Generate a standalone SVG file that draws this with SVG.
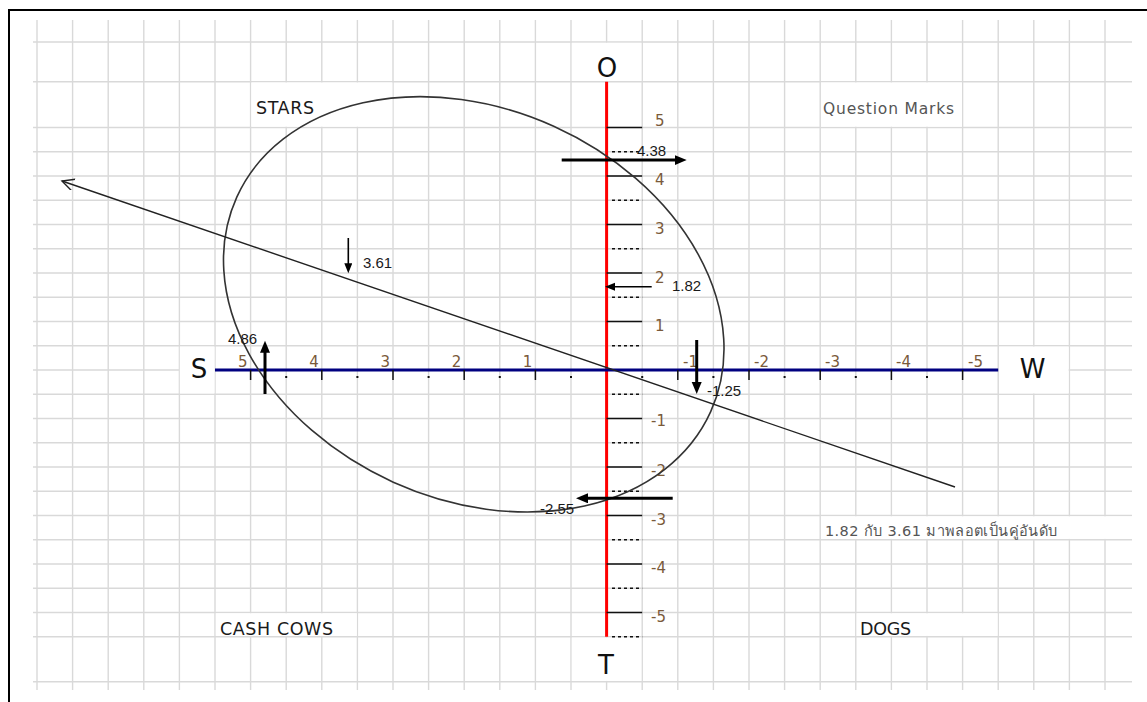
<svg xmlns="http://www.w3.org/2000/svg" width="1147" height="702" viewBox="0 0 1147 702">
<style>
.grid{stroke:#d9d9d9;stroke-width:1.4;fill:none}
.cell{fill:#fff}
.big{font-family:"DejaVu Sans","Liberation Sans",sans-serif;font-size:26px;fill:#111}
.quad{font-family:"DejaVu Sans","Liberation Sans",sans-serif;font-size:17.5px;fill:#1a1a1a}
.qm{font-family:"DejaVu Sans","Liberation Sans",sans-serif;font-size:15.5px;fill:#555}
.ax{font-family:"DejaVu Sans","Liberation Sans",sans-serif;font-size:15px;fill:#7a5a3a}
.val{font-family:"Liberation Sans","DejaVu Sans",sans-serif;font-size:15px;fill:#1a1a1a}
.thai{font-family:"DejaVu Sans","Noto Sans",sans-serif;font-size:14.5px;fill:#555}
.tick{stroke:#111;stroke-width:1.5}
.dot{stroke:#111;stroke-width:1.5;stroke-dasharray:3 3}
.thick{stroke:#000;stroke-width:3}
.thin{stroke:#000;stroke-width:1.6}
</style>
<defs>
<marker id="head" markerUnits="userSpaceOnUse" markerWidth="13" markerHeight="11" refX="4" refY="5" orient="auto">
<path d="M0,0 L12,5 L0,10 z" fill="#000"/>
</marker>
<marker id="headS" markerUnits="userSpaceOnUse" markerWidth="11" markerHeight="9" refX="3" refY="4" orient="auto">
<path d="M0,0 L10,4 L0,8 z" fill="#000"/>
</marker>
<marker id="open" markerUnits="userSpaceOnUse" markerWidth="14" markerHeight="14" refX="12" refY="6" orient="auto">
<path d="M0,0 L12,6 L0,12" fill="none" stroke="#222" stroke-width="1.4"/>
</marker>
</defs>
<rect width="1147" height="702" fill="#fff"/>
<g id="frame">
<path d="M9 702V10H1147" fill="none" stroke="#000" stroke-width="2"/>
</g>
<g id="grid">
<path class="grid" d="M37 20V690M72.6 20V690M108.2 20V690M143.8 20V690M179.4 20V690M215 20V690M250.6 20V690M286.2 20V690M321.8 20V690M357.4 20V690M393 20V690M428.6 20V690M464.2 20V690M499.8 20V690M535.4 20V690M571 20V690M606.6 20V690M642.2 20V690M677.8 20V690M713.4 20V690M749 20V690M784.6 20V690M820.2 20V690M855.8 20V690M891.4 20V690M927 20V690M962.6 20V690M998.2 20V690M1033.8 20V690M1069.4 20V690M1105 20V690"/>
<path class="grid" d="M33 42H1132M33 81.7H1132M33 127.5H1132M33 151.75H1132M33 176H1132M33 200.25H1132M33 224.5H1132M33 248.75H1132M33 273H1132M33 297.25H1132M33 321.5H1132M33 345.75H1132M33 370H1132M33 394.25H1132M33 418.5H1132M33 442.75H1132M33 467H1132M33 491.25H1132M33 515.5H1132M33 539.75H1132M33 564H1132M33 588.25H1132M33 612.5H1132M33 636.75H1132M33 681.7H1132"/>
<rect class="cell" x="571.8" y="42.8" width="69.6" height="38.1"/>
<rect class="cell" x="251.4" y="82.5" width="141" height="44.2"/>
<rect class="cell" x="821" y="82.5" width="141" height="44.2"/>
<rect class="cell" x="215.8" y="613.3" width="141" height="22.6"/>
<rect class="cell" x="856.6" y="613.3" width="141" height="22.6"/>
<rect class="cell" x="821" y="516.3" width="311" height="22.6"/>
<rect class="cell" x="571.8" y="637.6" width="69.6" height="43.3"/>
<rect class="cell" x="999" y="346.6" width="69.6" height="46.8"/>
<rect class="cell" x="179.8" y="346.6" width="34.8" height="46.8"/>
</g>
<g id="axis-ot">
<line x1="606.6" y1="81.7" x2="606.6" y2="636.75" stroke="#ff0000" stroke-width="3"/>
<path class="tick" d="M606.6 127.5H642.2M606.6 176H642.2M606.6 224.5H642.2M606.6 273H642.2M606.6 321.5H642.2M606.6 418.5H642.2M606.6 467H642.2M606.6 515.5H642.2M606.6 564H642.2M606.6 612.5H642.2"/>
<path class="dot" d="M612 151.75H642.2M612 200.25H642.2M612 248.75H642.2M612 297.25H642.2M612 345.75H642.2M612 394.25H642.2M612 442.75H642.2M612 491.25H642.2M612 539.75H642.2M612 588.25H642.2M612 636.75H642.2"/>
<text class="ax" x="655" y="126">5</text>
<text class="ax" x="655" y="185">4</text>
<text class="ax" x="655" y="234">3</text>
<text class="ax" x="655" y="283">2</text>
<text class="ax" x="655" y="331">1</text>
<text class="ax" x="651" y="426">-1</text>
<text class="ax" x="651" y="476">-2</text>
<text class="ax" x="651" y="525">-3</text>
<text class="ax" x="651" y="573">-4</text>
<text class="ax" x="651" y="622">-5</text>
</g>
<g id="axis-sw">
<line x1="215" y1="370" x2="998.2" y2="370" stroke="#000080" stroke-width="3"/>
<path class="tick" d="M250.6 370V380M321.8 370V380M393 370V380M464.2 370V380M535.4 370V380M677.8 370V380M749 370V380M820.2 370V380M891.4 370V380M962.6 370V380"/>
<path stroke="#111" stroke-width="2" d="M286.2 376v2M357.4 376v2M428.6 376v2M499.8 376v2M571 376v2M642.2 376v2M713.4 376v2M784.6 376v2M855.8 376v2M927 376v2"/>
<text class="ax" x="247.6" y="367" text-anchor="end">5</text>
<text class="ax" x="318.8" y="367" text-anchor="end">4</text>
<text class="ax" x="390" y="367" text-anchor="end">3</text>
<text class="ax" x="461.2" y="367" text-anchor="end">2</text>
<text class="ax" x="532.4" y="367" text-anchor="end">1</text>
<text class="ax" x="683" y="367">-1</text>
<text class="ax" x="754" y="367">-2</text>
<text class="ax" x="825" y="367">-3</text>
<text class="ax" x="896" y="367">-4</text>
<text class="ax" x="968" y="367">-5</text>
</g>
<g id="labels">
<text class="big" x="607" y="76.5" text-anchor="middle">O</text>
<text class="big" x="606" y="674" text-anchor="middle">T</text>
<text class="big" x="199" y="378" text-anchor="middle">S</text>
<text class="big" x="1032.5" y="378" text-anchor="middle">W</text>
<text class="quad" x="256" y="113.5" textLength="58">STARS</text>
<text class="qm" x="823" y="114" textLength="131">Question Marks</text>
<text class="quad" x="220" y="634.5" textLength="113">CASH COWS</text>
<text class="quad" x="860" y="634.5" textLength="51">DOGS</text>
<text class="thai" x="825" y="536" textLength="232">1.82 กับ 3.61 มาพลอตเป็นคู่อันดับ</text>
</g>
<g id="ellipse">
<ellipse cx="473.75" cy="304.35" rx="260.1" ry="195.2" transform="rotate(24.35 473.75 304.35)" fill="none" stroke="#333" stroke-width="1.6"/>
</g>
<g id="connectors">
<line x1="955" y1="487" x2="62" y2="181" stroke="#222" stroke-width="1.4" marker-end="url(#open)"/>
<line class="thick" x1="561.7" y1="160" x2="678.7" y2="160" marker-end="url(#head)"/>
<line class="thick" x1="672.7" y1="498.3" x2="584" y2="498.3" marker-end="url(#head)"/>
<line class="thick" x1="265" y1="394" x2="265" y2="348.7" marker-end="url(#head)"/>
<line class="thick" x1="696.7" y1="340" x2="696.7" y2="386" marker-end="url(#head)"/>
<line class="thin" x1="348.3" y1="238" x2="348.3" y2="266.3" marker-end="url(#headS)"/>
<line class="thin" x1="651.7" y1="286.7" x2="612" y2="286.7" marker-end="url(#headS)"/>
</g>
<g id="values">
<text class="val" x="637" y="156">4.38</text>
<text class="val" x="363" y="268">3.61</text>
<text class="val" x="672" y="291">1.82</text>
<text class="val" x="707" y="396">-1.25</text>
<text class="val" x="540" y="513.5">-2.55</text>
<text class="val" x="228" y="344">4.86</text>
</g>
</svg>
